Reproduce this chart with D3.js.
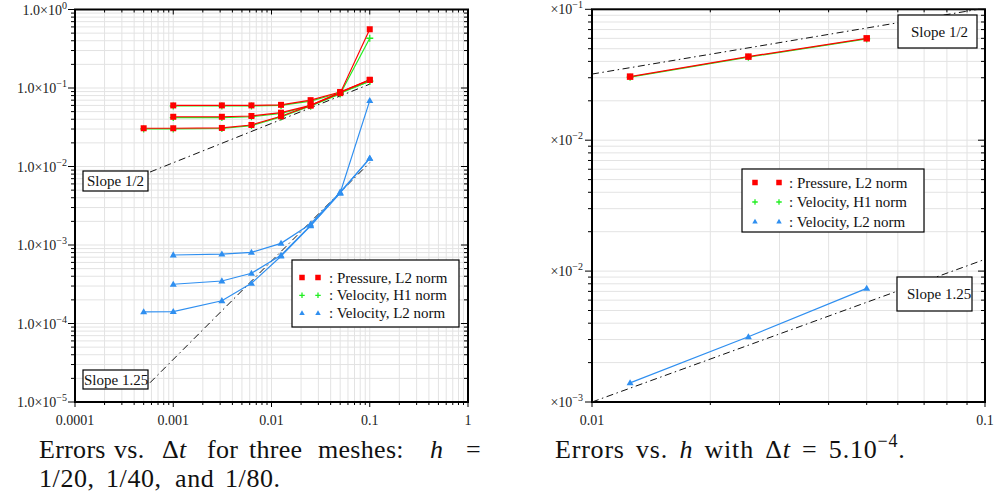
<!DOCTYPE html>
<html><head><meta charset="utf-8">
<script src="https://cdn.jsdelivr.net/npm/d3@7"></script>
<style>body{margin:0;background:#fff}svg{display:block}</style>
</head><body>
<svg id="c" width="996" height="502"></svg>
<script>
// ---------------- DATA ----------------
// Left panel: errors vs. time step for three meshes
const dtValues = [0.0005, 0.001, 0.003125, 0.00625, 0.0125, 0.025, 0.05, 0.1];
const pressureL2_h20 = [null, 0.060, 0.060, 0.060, 0.061, 0.070, 0.089, 0.127];
const pressureL2_h40 = [null, 0.043, 0.043, 0.044, 0.0485, 0.060, 0.088, 0.127];
const pressureL2_h80 = [0.0307, 0.0307, 0.031, 0.0338, 0.0436, 0.060, 0.086, 0.56];
const velocityH1_h20 = [null, 0.059, 0.059, 0.059, 0.060, 0.068, 0.087, 0.122];
const velocityH1_h40 = [null, 0.042, 0.042, 0.043, 0.0475, 0.059, 0.086, 0.122];
const velocityH1_h80 = [0.0301, 0.0301, 0.0305, 0.0332, 0.0428, 0.059, 0.084, 0.43];
const velocityL2_h20 = [null, 7.46e-4, 7.67e-4, 8.07e-4, 1.05e-3, 1.85e-3, 4.7e-3, 0.0127];
const velocityL2_h40 = [null, 3.16e-4, 3.48e-4, 4.36e-4, 7.4e-4, 1.78e-3, 4.6e-3, 0.0127];
const velocityL2_h80 = [1.41e-4, 1.42e-4, 1.95e-4, 3.25e-4, 7.2e-4, 1.75e-3, 4.6e-3, 0.069];
const slopeHalfLeft = [[0.00058, 0.0085], [0.1, 0.112]];
const slope125Left = [[0.00058, 1.76e-5], [0.1, 0.0112]];
const leftXTickLabels = ["0.0001", "0.001", "0.01", "0.1", "1"];
const leftYTickExponents = ["0", "\u22121", "\u22122", "\u22123", "\u22124", "\u22125"];

// Right panel: errors vs. mesh size with dt = 5e-4
const hValues = [0.0125, 0.025, 0.05];
const pressureL2_h = [0.0306, 0.0435, 0.060];
const velocityH1_h = [0.0303, 0.0431, 0.0594];
const velocityL2_h = [1.40e-4, 3.15e-4, 7.38e-4];
const slopeHalfRight = [[0.01, 0.032], [0.1, 0.102]];
const slope125Right = [[0.01, 1.0e-4], [0.1, 1.23e-3]];
const rightXTickLabels = ["0.01", "0.1"];
const rightYTickExponents = ["\u22121", "\u22122", "\u22122", "\u22123"];

const legendLabels = ["Pressure, L2 norm", "Velocity, H1 norm", "Velocity, L2 norm"];

// ---------------- STYLE ----------------
const FONT = '"Liberation Serif","Times New Roman",serif';
const RED = "#ff0000", GREEN = "#22ee22", BLUE = "#2f8ff0";
const GRID = "#e3e3e3";

const svg = d3.select("#c");

function isMajor(t) { const l = Math.log10(t); return Math.abs(l - Math.round(l)) < 1e-6; }

function marker(g, type, cx, cy, s) {
  if (type === "square") {
    g.append("rect").attr("x", cx - s / 2).attr("y", cy - s / 2).attr("width", s).attr("height", s).attr("fill", RED);
  } else if (type === "plus") {
    const h = s / 2;
    g.append("path").attr("d", `M${cx - h},${cy}H${cx + h}M${cx},${cy - h}V${cy + h}`)
      .attr("stroke", GREEN).attr("stroke-width", 1.3).attr("fill", "none");
  } else {
    const h = s * 0.866;
    g.append("path").attr("d", `M${cx},${cy - h * 0.6}L${cx + s / 2},${cy + h * 0.4}L${cx - s / 2},${cy + h * 0.4}Z`)
      .attr("fill", BLUE);
  }
}

function panel(cfg) {
  const { x, y } = cfg;
  const g = svg.append("g");
  const [x0, x1] = x.range(), [y1, y0] = y.range();
  const xt = x.ticks(), yt = y.ticks();
  const clipId = "clip" + cfg.id;
  svg.append("clipPath").attr("id", clipId).append("rect")
    .attr("x", x0).attr("y", y0).attr("width", x1 - x0).attr("height", y1 - y0);

  // grid
  g.selectAll(null).data(xt).join("line")
    .attr("x1", d => x(d)).attr("x2", d => x(d)).attr("y1", y0).attr("y2", y1)
    .attr("stroke", GRID).attr("stroke-width", 1);
  g.selectAll(null).data(yt).join("line")
    .attr("y1", d => y(d)).attr("y2", d => y(d)).attr("x1", x0).attr("x2", x1)
    .attr("stroke", GRID).attr("stroke-width", 1);

  // ticks
  const tk = g.append("g").attr("stroke", "#000").attr("stroke-width", 1);
  xt.forEach(t => {
    const L = isMajor(t) ? 5 : 3, X = x(t);
    tk.append("line").attr("x1", X).attr("x2", X).attr("y1", y1).attr("y2", y1 + L);
    tk.append("line").attr("x1", X).attr("x2", X).attr("y1", y0).attr("y2", y0 + L);
  });
  yt.forEach(t => {
    const L = isMajor(t) ? 7 : 4, Y = y(t);
    tk.append("line").attr("x1", x0 - L).attr("x2", x0).attr("y1", Y).attr("y2", Y);
    tk.append("line").attr("x1", x1 - L).attr("x2", x1).attr("y1", Y).attr("y2", Y);
  });

  // frame
  g.append("rect").attr("x", x0).attr("y", y0).attr("width", x1 - x0).attr("height", y1 - y0)
    .attr("fill", "none").attr("stroke", "#000").attr("stroke-width", 2);

  // x tick labels
  const xMaj = xt.filter(isMajor);
  g.selectAll(null).data(xMaj).join("text")
    .attr("x", d => x(d)).attr("y", y1 + 23).attr("text-anchor", "middle")
    .attr("font-family", FONT).attr("font-size", 14).attr("fill", "#222")
    .text((d, i) => cfg.xLabels[i]);

  // y tick labels
  const yMaj = yt.filter(isMajor).sort((a, b) => b - a);
  yMaj.forEach((t, i) => {
    const tx = g.append("text").attr("x", x0 - cfg.yLabelGap).attr("y", y(t) + 5)
      .attr("text-anchor", "end").attr("font-family", FONT).attr("font-size", 14).attr("fill", "#222");
    tx.append("tspan").text(cfg.yBase);
    tx.append("tspan").attr("dy", -6).attr("font-size", 10).text(cfg.yExps[i]);
  });

  const data = g.append("g").attr("clip-path", `url(#${clipId})`);
  // slope reference lines
  cfg.slopes.forEach(s => {
    data.append("path").attr("d", d3.line().x(d => x(d[0])).y(d => y(d[1]))(s))
      .attr("fill", "none").attr("stroke", "#111").attr("stroke-width", 1)
      .attr("stroke-dasharray", "7,3.5,1.5,3.5");
  });

  const line = d3.line().defined(d => d[1] != null).x(d => x(d[0])).y(d => y(d[1]));
  const mk = g.append("g");
  cfg.series.forEach(sr => {
    sr.curves.forEach(c => {
      const pts = cfg.xs.map((v, i) => [v, c[i]]);
      data.append("path").attr("d", line(pts)).attr("fill", "none")
        .attr("stroke", sr.color).attr("stroke-width", 1.2);
      pts.filter(p => p[1] != null).forEach(p => marker(mk, sr.type, x(p[0]), y(p[1]), sr.size));
    });
  });

  // slope labels
  cfg.boxes.forEach(b => {
    g.append("rect").attr("x", b.x).attr("y", b.y).attr("width", b.w).attr("height", b.h)
      .attr("fill", "#fff").attr("stroke", "#000").attr("stroke-width", 1.2);
    g.append("text").attr("x", b.x + b.tx).attr("y", b.y + b.h / 2 + 5)
      .attr("font-family", FONT).attr("font-size", 15).attr("fill", "#111")
      .text(b.text);
  });

  // legend
  const L = cfg.legend;
  g.append("rect").attr("x", L.x).attr("y", L.y).attr("width", L.w).attr("height", L.h)
    .attr("fill", "#fff").attr("stroke", "#000").attr("stroke-width", 1.2);
  const types = ["square", "plus", "triangle"];
  legendLabels.forEach((lab, i) => {
    const cy = L.y + L.r0 + i * L.dy;
    marker(g, types[i], L.x + L.m1, cy, 5.5);
    marker(g, types[i], L.x + L.m2, cy, 5.5);
    g.append("text").attr("x", L.x + L.tx).attr("y", cy + 5)
      .attr("font-family", FONT).attr("font-size", 15).attr("fill", "#111").text(": " + lab);
  });
}

// ---------------- LEFT PANEL ----------------
panel({
  id: "L",
  x: d3.scaleLog().domain([1e-4, 1]).range([75, 468]),
  y: d3.scaleLog().domain([1e-5, 1]).range([402, 9.5]),
  xs: dtValues,
  xLabels: leftXTickLabels,
  yBase: "1.0\u00d710", yExps: leftYTickExponents, yLabelGap: 8,
  slopes: [slopeHalfLeft, slope125Left],
  series: [
    { color: GREEN, type: "plus", size: 7, curves: [velocityH1_h20, velocityH1_h40, velocityH1_h80] },
    { color: RED, type: "square", size: 6, curves: [pressureL2_h20, pressureL2_h40, pressureL2_h80] },
    { color: BLUE, type: "triangle", size: 7, curves: [velocityL2_h20, velocityL2_h40, velocityL2_h80] }
  ],
  boxes: [
    { x: 83, y: 171, w: 65, h: 20, tx: 4, text: "Slope 1/2" },
    { x: 83, y: 370, w: 65, h: 19, tx: 1, text: "Slope 1.25" }
  ],
  legend: { x: 292, y: 260, w: 167, h: 67, r0: 17.5, dy: 17.8, m1: 10, m2: 26, tx: 37 }
});

// ---------------- RIGHT PANEL ----------------
panel({
  id: "R",
  x: d3.scaleLog().domain([0.01, 0.1]).range([592, 985]),
  y: d3.scaleLog().domain([1e-4, 1e-1]).range([402, 9.3]),
  xs: hValues,
  xLabels: rightXTickLabels,
  yBase: "\u00d710", yExps: rightYTickExponents, yLabelGap: 9,
  slopes: [slopeHalfRight, slope125Right],
  series: [
    { color: GREEN, type: "plus", size: 7, curves: [velocityH1_h] },
    { color: RED, type: "square", size: 6.5, curves: [pressureL2_h] },
    { color: BLUE, type: "triangle", size: 7, curves: [velocityL2_h] }
  ],
  boxes: [
    { x: 898, y: 15, w: 79, h: 33, tx: 13, text: "Slope 1/2" },
    { x: 897, y: 277, w: 75, h: 34, tx: 10, text: "Slope 1.25" }
  ],
  legend: { x: 742, y: 169, w: 182, h: 63, r0: 13.5, dy: 19.5, m1: 13, m2: 37, tx: 47 }
});

// ---------------- CAPTIONS ----------------
const CF = 26;
const cap1 = svg.append("text").attr("y", 458).attr("font-family", FONT).attr("font-size", CF)
  .attr("fill", "#111").attr("letter-spacing", 0.3);
const words1 = [["Errors", 39], ["vs.", 114], ["\u0394", 162, "t"], ["for", 207], ["three", 249], ["meshes:", 318], ["h", 430, null, true], ["=", 466]];
words1.forEach(w => {
  const t = cap1.append("tspan").attr("x", w[1]);
  if (w[3]) t.attr("font-style", "italic");
  t.text(w[0]);
  if (w[2]) cap1.append("tspan").attr("font-style", "italic").text(w[2]);
});
const cap1b = svg.append("text").attr("y", 487).attr("font-family", FONT).attr("font-size", CF)
  .attr("fill", "#111").attr("letter-spacing", 0.6);
[["1/20,", 39], ["1/40,", 106], ["and", 175], ["1/80.", 225]].forEach(w => {
  cap1b.append("tspan").attr("x", w[1]).text(w[0]);
});

const cap2 = svg.append("text").attr("x", 555).attr("y", 458).attr("font-family", FONT).attr("font-size", CF)
  .attr("fill", "#111").attr("letter-spacing", 0.8).attr("word-spacing", 4);
cap2.append("tspan").text("Errors vs. ");
cap2.append("tspan").attr("font-style", "italic").text("h");
cap2.append("tspan").text(" with \u0394");
cap2.append("tspan").attr("font-style", "italic").text("t");
cap2.append("tspan").text(" = 5.10");
cap2.append("tspan").attr("dy", -11).attr("font-size", 18).text("\u22124");
cap2.append("tspan").attr("dy", 11).text(".");
</script>
</body></html>
